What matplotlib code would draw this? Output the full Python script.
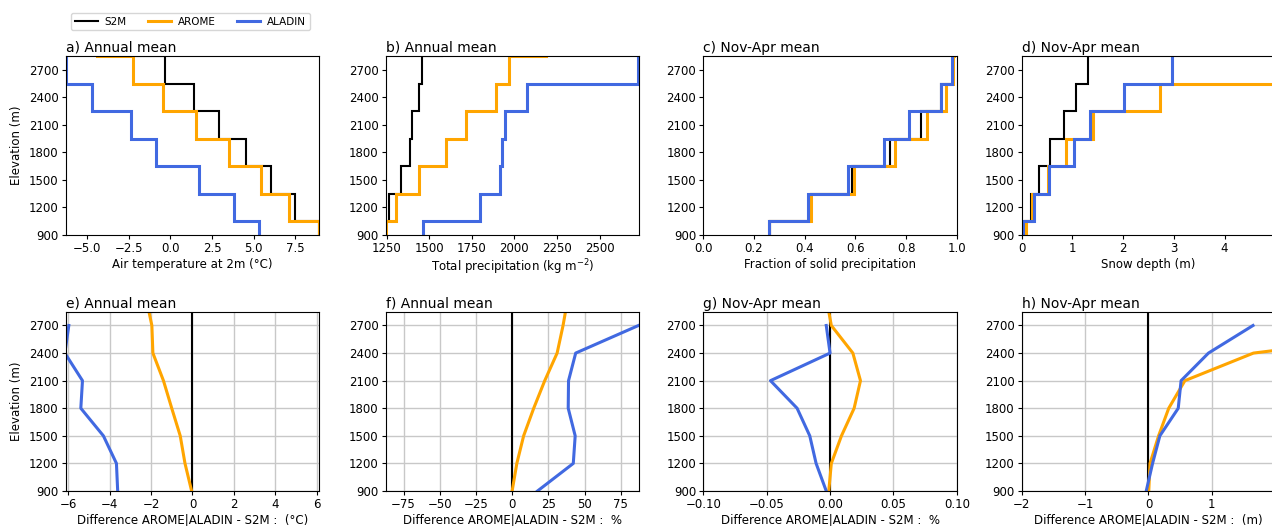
import numpy as np
import matplotlib.pyplot as plt

# elevation bands (m)
elev = np.array([900, 1200, 1500, 1800, 2100, 2400, 2700, 3000])

# a) air temperature at 2m (°C), annual mean
t2m_s2m = [8.94, 7.46, 6.04, 4.53, 2.93, 1.43, -0.32, -2.19]
t2m_arome = [8.90, 7.10, 5.45, 3.53, 1.53, -0.48, -2.28, -4.43]
t2m_aladin = [5.33, 3.79, 1.74, -0.86, -2.38, -4.73, -6.29]

# b) total precipitation (kg m-2), annual mean
pr_s2m = [1245, 1265, 1335, 1390, 1400, 1443, 1457, 1577]
pr_arome = [1244, 1305, 1440, 1596, 1714, 1890, 1968, 2183]
pr_aladin = [1462, 1798, 1915, 1927, 1944, 2075, 2727]

# c) fraction of solid precipitation, Nov-Apr mean
fs_s2m = [0.262, 0.424, 0.587, 0.738, 0.860, 0.938, 0.985, 0.990]
fs_arome = [0.261, 0.425, 0.596, 0.757, 0.884, 0.956, 0.986, 0.987]
fs_aladin = [0.259, 0.413, 0.571, 0.712, 0.813, 0.938, 0.982]

# d) snow depth (m), Nov-Apr mean
sd_s2m = [0.07, 0.185, 0.35, 0.56, 0.825, 1.063, 1.31, 1.67]
sd_arome = [0.075, 0.21, 0.51, 0.88, 1.40, 2.72, 6.5, 7.5]
sd_aladin = [0.035, 0.25, 0.53, 1.03, 1.34, 2.01, 2.96]

titles = ['a) Annual mean', 'b) Annual mean', 'c) Nov-Apr mean', 'd) Nov-Apr mean',
          'e) Annual mean', 'f) Annual mean', 'g) Nov-Apr mean', 'h) Nov-Apr mean']
xlabels_top = ['Air temperature at 2m (°C)', 'Total precipitation (kg m$^{-2}$)',
               'Fraction of solid precipitation', 'Snow depth (m)']
xlabels_bot = ['Difference AROME|ALADIN - S2M :  (°C)', 'Difference AROME|ALADIN - S2M :  %',
               'Difference AROME|ALADIN - S2M :  %', 'Difference AROME|ALADIN - S2M :  (m)']
xlim_top = [(-6.3, 8.94), (1244, 2731), (0, 1), (0, 5.0)]
xlim_bot = [(-6.12, 6.12), (-87.5, 87.5), (-0.1, 0.1), (-2, 2)]

c_s2m, c_arome, c_aladin = 'black', 'orange', 'royalblue'
edges = np.append(elev - 150, elev[-1] + 150)

plt.rcParams['font.size'] = 8
fig = plt.figure(figsize=(12.72, 5.26), dpi=100)

lefts = [65.7, 385.5, 703.3, 1021.7]
W, H = 1272, 526
top_axes, bot_axes = [], []
for l in lefts:
    top_axes.append(fig.add_axes([l / W, (H - 235) / H, 253.5 / W, 179 / H]))
    bot_axes.append(fig.add_axes([l / W, (H - 491) / H, 253.5 / W, 179.3 / H]))

data = [(t2m_s2m, t2m_arome, t2m_aladin, 'abs'),
        (pr_s2m, pr_arome, pr_aladin, 'pct'),
        (fs_s2m, fs_arome, fs_aladin, 'abs'),
        (sd_s2m, sd_arome, sd_aladin, 'abs')]

for i, (s2m, arome, aladin, mode) in enumerate(data):
    s2m, arome, aladin = np.array(s2m), np.array(arome), np.array(aladin)
    ax = top_axes[i]
    ax.stairs(s2m, edges, orientation='horizontal', baseline=None, color=c_s2m, lw=1.5, label='S2M')
    ax.stairs(arome, edges, orientation='horizontal', baseline=None, color=c_arome, lw=2.2, label='AROME')
    ax.stairs(aladin, edges[:len(aladin) + 1], orientation='horizontal', baseline=None,
              color=c_aladin, lw=2.2, label='ALADIN')
    ax.set_xlim(xlim_top[i])
    ax.set_xlabel(xlabels_top[i], labelpad=2, fontsize=8.5)
    ax.set_title(titles[i], loc='left', fontsize=10, pad=3)

    # differences to S2M
    n = len(aladin)
    if mode == 'pct':
        d_arome = (arome - s2m) / s2m * 100
        d_aladin = (aladin - s2m[:n]) / s2m[:n] * 100
    else:
        d_arome = arome - s2m
        d_aladin = aladin - s2m[:n]
    bx = bot_axes[i]
    bx.plot(np.zeros(len(elev)), elev, color=c_s2m, lw=1.5)
    bx.plot(d_arome, elev, color=c_arome, lw=2.2)
    bx.plot(d_aladin, elev[:n], color=c_aladin, lw=2.2)
    bx.set_xlim(xlim_bot[i])
    bx.grid(True, color='#c8c8c8', lw=1)
    bx.set_axisbelow(True)
    bx.set_xlabel(xlabels_bot[i], labelpad=2, fontsize=8.5)
    bx.set_title(titles[i + 4], loc='left', fontsize=10, pad=3)

# last column runs past the right edge of the picture
top_axes[3].set_xticks([0, 1, 2, 3, 4])
bot_axes[3].set_xticks([-2, -1, 0, 1])

for ax in top_axes + bot_axes:
    ax.set_ylim(900, 2850)
    ax.set_yticks(np.arange(900, 2701, 300))
    ax.tick_params(length=3, pad=2, labelsize=8.5)

top_axes[0].set_ylabel('Elevation (m)', fontsize=8.5)
bot_axes[0].set_ylabel('Elevation (m)', fontsize=8.5)

h, lab = top_axes[0].get_legend_handles_labels()
fig.legend(h, lab, ncol=3, loc='upper left', bbox_to_anchor=(71 / W, 1 - 13 / H),
           fontsize=7.5, borderaxespad=0, handlelength=2.2, columnspacing=2.0,
           handletextpad=0.7, borderpad=0.35)

fig.savefig('out.png', dpi=100)
